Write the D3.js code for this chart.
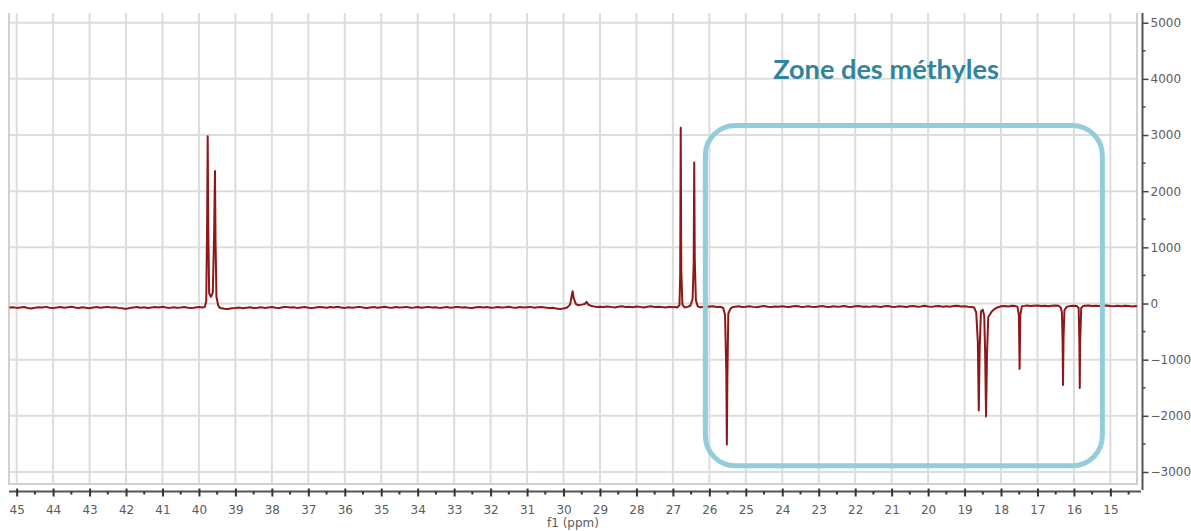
<!DOCTYPE html>
<html><head><meta charset="utf-8">
<script src="https://cdn.jsdelivr.net/npm/d3@7"></script>
<style>body{margin:0;background:#fff;} svg{display:block}</style>
</head><body><svg id="c" width="1191" height="531"></svg>
<script>
// ---- data ----
const xTickLabels = [45,44,43,42,41,40,39,38,37,36,35,34,33,32,31,30,29,28,27,26,25,24,23,22,21,20,19,18,17,16,15];
const xMinorTicks = [44.5,43.5,42.5,41.5,40.5,39.5,38.5,37.5,36.5,35.5,34.5,33.5,32.5,31.5,30.5,29.5,28.5,27.5,26.5,25.5,24.5,23.5,22.5,21.5,20.5,19.5,18.5,17.5,16.5,15.5,14.5];
const yTickLabels = [5000,4000,3000,2000,1000,0,-1000,-2000,-3000];
const yMinorTicks = [4500,3500,2500,1500,500,-500,-1500,-2500];
const xDomain = [45.21, 14.27];
const yDomain = [5173, -3214];
const axisTitle = "f1 (ppm)";
const zoneLabel = "Zone des méthyles";
const zonePpm = [26.11, 15.22];
const zoneIntensity = [3170, -2890];
const zoneLabelAt = [24.25, 4000];
// spectrum: [ppm, intensity]
const spectrum = [
[45.2,-72],[45.1,-65],[45.0,-78],[44.9,-70],[44.8,-62],[44.7,-80],[44.6,-88],[44.5,-74],[44.4,-66],[44.3,-72],
[44.2,-60],[44.1,-76],[44.0,-82],[43.9,-70],[43.8,-64],[43.7,-75],[43.6,-68],[43.5,-58],[43.4,-72],[43.3,-80],
[43.2,-66],[43.1,-74],[43.0,-86],[42.9,-70],[42.8,-62],[42.7,-75],[42.6,-68],[42.5,-60],[42.4,-72],[42.3,-66],
[42.2,-78],[42.1,-84],[42.0,-96],[41.9,-80],[41.8,-70],[41.7,-62],[41.6,-74],[41.5,-68],[41.4,-80],[41.3,-72],
[41.2,-64],[41.1,-70],[41.0,-58],[40.9,-72],[40.8,-78],[40.7,-66],[40.6,-74],[40.5,-70],[40.4,-62],[40.3,-76],
[40.2,-82],[40.1,-70],[40.0,-64],[39.9,-72],
[39.84,-60],[39.8,40],[39.775,1500],[39.76,2980],[39.745,1400],[39.72,180],[39.67,120],[39.62,200],[39.585,1200],
[39.56,2360],[39.545,1100],[39.52,120],[39.47,-40],[39.42,-80],
[39.3,-92],[39.2,-98],[39.1,-86],[39.0,-80],[38.9,-72],[38.8,-84],[38.7,-76],[38.6,-68],[38.5,-80],[38.4,-74],
[38.3,-66],[38.2,-78],[38.1,-70],[38.0,-62],[37.9,-74],[37.8,-80],[37.7,-68],[37.6,-60],[37.5,-72],[37.4,-66],
[37.3,-78],[37.2,-70],[37.1,-64],[37.0,-74],[36.9,-82],[36.8,-70],[36.7,-62],[36.6,-68],[36.5,-76],[36.4,-64],
[36.3,-70],[36.2,-58],[36.1,-72],[36.0,-78],[35.9,-66],[35.8,-74],[35.7,-68],[35.6,-60],[35.5,-72],[35.4,-80],
[35.3,-70],[35.2,-64],[35.1,-74],[35.0,-66],[34.9,-58],[34.8,-70],[34.7,-76],[34.6,-64],[34.5,-72],[34.4,-68],
[34.3,-60],[34.2,-74],[34.1,-70],[34.0,-62],[33.9,-76],[33.8,-68],[33.7,-60],[33.6,-72],[33.5,-66],[33.4,-78],
[33.3,-70],[33.2,-62],[33.1,-74],[33.0,-68],[32.9,-60],[32.8,-72],[32.7,-66],[32.6,-74],[32.5,-80],[32.4,-68],
[32.3,-62],[32.2,-70],[32.1,-64],[32.0,-76],[31.9,-70],[31.8,-62],[31.7,-72],[31.6,-66],[31.5,-58],[31.4,-70],
[31.3,-76],[31.2,-64],[31.1,-72],[31.0,-66],[30.9,-60],[30.8,-74],[30.7,-68],[30.6,-62],[30.5,-72],[30.4,-80],
[30.3,-76],[30.2,-90],[30.1,-96],[30.0,-88],[29.9,-70],[29.82,-20],[29.78,120],[29.75,220],[29.72,90],[29.66,-10],
[29.6,-30],[29.5,-20],[29.42,-10],[29.37,30],[29.32,-20],[29.25,-40],[29.2,-50],[29.1,-60],
[29.0,-56],[28.9,-64],[28.8,-52],[28.7,-60],[28.6,-70],[28.5,-58],[28.4,-50],[28.3,-62],[28.2,-56],[28.1,-66],
[28.0,-54],[27.9,-60],[27.8,-70],[27.7,-58],[27.6,-50],[27.5,-62],[27.4,-56],[27.3,-64],[27.2,-70],[27.1,-58],
[27.0,-66],[26.95,-60],[26.88,-72],
[26.82,-30],[26.8,500],[26.785,3130],[26.77,600],[26.74,-20],[26.68,-70],[26.6,-60],[26.52,-40],[26.46,80],
[26.43,700],[26.415,2510],[26.4,800],[26.37,60],[26.32,-50],[26.25,-70],[26.2,-60],[26.1,-68],[26.0,-54],
[25.9,-50],[25.8,-62],[25.7,-56],[25.62,-80],[25.57,-200],[25.535,-1200],[25.52,-2510],[25.505,-1300],
[25.48,-180],[25.42,-90],[25.35,-60],
[25.3,-58],[25.2,-50],[25.1,-62],[25.0,-56],[24.9,-48],[24.8,-60],[24.7,-66],[24.6,-54],[24.5,-46],[24.4,-58],
[24.3,-64],[24.2,-52],[24.1,-58],[24.0,-48],[23.9,-56],[23.8,-62],[23.7,-50],[23.6,-44],[23.5,-56],[23.4,-60],
[23.3,-50],[23.2,-58],[23.1,-64],[23.0,-52],[22.9,-46],[22.8,-56],[22.7,-62],[22.6,-50],[22.5,-58],[22.4,-54],
[22.3,-44],[22.2,-56],[22.1,-62],[22.0,-50],[21.9,-46],[21.8,-58],[21.7,-52],[21.6,-60],[21.5,-48],[21.4,-54],
[21.3,-62],[21.2,-50],[21.1,-44],[21.0,-56],[20.9,-60],[20.8,-48],[20.7,-54],[20.6,-62],[20.5,-50],[20.4,-46],
[20.3,-58],[20.2,-52],[20.1,-40],[20.0,-54],[19.9,-60],[19.8,-48],[19.7,-44],[19.6,-56],[19.5,-50],[19.4,-58],
[19.3,-46],[19.2,-40],[19.1,-52],[19.0,-48],[18.9,-56],[18.8,-62],
[18.74,-70],[18.68,-160],[18.635,-700],[18.61,-1907],[18.585,-800],[18.55,-140],[18.5,-110],[18.46,-220],
[18.435,-900],[18.41,-2010],[18.385,-900],[18.35,-240],[18.3,-190],[18.25,-140],[18.2,-110],[18.1,-70],
[18.0,-50],[17.9,-44],[17.8,-52],[17.7,-40],[17.6,-46],[17.55,-55],[17.51,-200],[17.49,-1164],[17.47,-200],
[17.43,-50],[17.35,-42],[17.3,-36],[17.2,-46],[17.1,-40],[17.0,-34],[16.9,-44],[16.8,-38],[16.7,-48],[16.6,-40],
[16.5,-34],[16.42,-40],[16.36,-70],[16.33,-160],[16.31,-700],[16.3,-1449],[16.285,-600],[16.26,-120],[16.2,-60],
[16.1,-44],[16.0,-38],[15.92,-46],[15.87,-80],[15.85,-700],[15.84,-1503],[15.83,-700],[15.8,-80],[15.75,-46],
[15.7,-40],[15.6,-36],[15.5,-44],[15.4,-38],[15.3,-46],[15.2,-40],[15.1,-34],[15.0,-44],[14.9,-50],[14.8,-42],
[14.7,-48],[14.6,-40],[14.5,-46],[14.4,-52],[14.3,-44],[14.27,-48]
];

// ---- layout ----
const L = 9, R = 1137, T = 13, B = 484;
const svg = d3.select("#c");
const x = d3.scaleLinear().domain(xDomain).range([L, R]);
const y = d3.scaleLinear().domain(yDomain).range([T, B]);
const gridColor = "#dcdcdc";
const textColor = "#5c5c5c";
const font = "'DejaVu Sans', sans-serif";

// grid
svg.append("g").selectAll("line").data(xTickLabels).join("line")
  .attr("x1", d => x(d)).attr("x2", d => x(d)).attr("y1", T).attr("y2", B)
  .attr("stroke", gridColor).attr("stroke-width", 2);
svg.append("g").selectAll("line").data(yTickLabels).join("line")
  .attr("x1", L).attr("x2", R).attr("y1", d => y(d)).attr("y2", d => y(d))
  .attr("stroke", gridColor).attr("stroke-width", 2);
// frame (left, right, bottom)
svg.append("path").attr("d", `M${L},${T}V${B}H${R}V${T}`)
  .attr("fill", "none").attr("stroke", "#d0d0d0").attr("stroke-width", 2);

// spectrum
svg.append("clipPath").attr("id", "clip").append("rect")
  .attr("x", L).attr("y", T).attr("width", R - L).attr("height", B - T);
svg.append("path").datum(spectrum)
  .attr("clip-path", "url(#clip)")
  .attr("fill", "none").attr("stroke", "#8e1717").attr("stroke-width", 2)
  .attr("stroke-linejoin", "round")
  .attr("d", d3.line().x(d => x(d[0])).y(d => y(d[1])));

// zone box
const zx0 = x(zonePpm[0]), zx1 = x(zonePpm[1]);
const zy0 = y(zoneIntensity[0]), zy1 = y(zoneIntensity[1]);
svg.append("rect").attr("x", zx0).attr("y", zy0).attr("width", zx1 - zx0).attr("height", zy1 - zy0)
  .attr("rx", 30).attr("ry", 30).attr("fill", "none")
  .attr("stroke", "#92cddc").attr("stroke-width", 5);
const zt = svg.append("text").attr("x", x(zoneLabelAt[0])).attr("y", y(zoneLabelAt[1]))
  .attr("font-family", "Lato, 'Open Sans', sans-serif").attr("font-weight", "bold")
  .attr("font-size", 24).attr("fill", "#31849b").text(zoneLabel);
const w = zt.node().getComputedTextLength();
zt.attr("font-size", 24 * 226 / w);

// right axis
const ax = 1142.5;
svg.append("line").attr("x1", ax).attr("x2", ax).attr("y1", T).attr("y2", 490)
  .attr("stroke", "#555").attr("stroke-width", 2);
const yAxis = svg.append("g").attr("transform", `translate(${ax},0)`)
  .call(d3.axisRight(y).tickValues(yTickLabels).tickSize(6).tickPadding(2).tickFormat(d3.format("d")));
yAxis.select(".domain").remove();
yAxis.selectAll("line").attr("stroke", "#444").attr("stroke-width", 1.5);
yAxis.selectAll("text").attr("font-family", font).attr("font-size", 12).attr("fill", textColor);
svg.append("g").selectAll("line").data(yMinorTicks).join("line")
  .attr("x1", ax).attr("x2", ax + 3).attr("y1", d => y(d)).attr("y2", d => y(d))
  .attr("stroke", "#444").attr("stroke-width", 1.5);

// bottom axis
const by = 491.5;
svg.append("line").attr("x1", L).attr("x2", 1141).attr("y1", by).attr("y2", by)
  .attr("stroke", "#555").attr("stroke-width", 2);
const xAxis = svg.append("g").attr("transform", `translate(0,${by})`)
  .call(d3.axisBottom(x).tickValues(xTickLabels).tickSize(5).tickPadding(9).tickFormat(d3.format("d")));
xAxis.select(".domain").remove();
xAxis.selectAll("line").attr("y1", -3).attr("stroke", "#333").attr("stroke-width", 2);
xAxis.selectAll("text").attr("font-family", font).attr("font-size", 12).attr("fill", textColor);
svg.append("g").selectAll("line").data(xMinorTicks).join("line")
  .attr("x1", d => x(d)).attr("x2", d => x(d)).attr("y1", by).attr("y2", by + 3)
  .attr("stroke", "#333").attr("stroke-width", 2);
svg.append("text").attr("x", (L + R) / 2).attr("y", 527).attr("text-anchor", "middle")
  .attr("font-family", font).attr("font-size", 12).attr("fill", textColor).text(axisTitle);
</script></body></html>
